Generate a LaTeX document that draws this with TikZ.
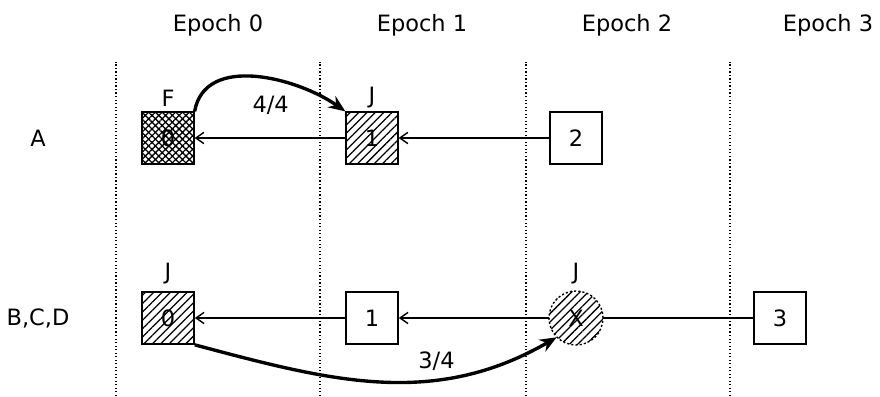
\documentclass[tikz,border=0pt]{standalone}
\usepackage{fontspec}
\setmainfont{DejaVu Sans}
\usetikzlibrary{arrows.meta,patterns.meta,positioning}
\tikzset{
  block/.style={draw, line width=1.2pt, minimum size=1.3cm, inner sep=0pt},
  ghost/.style={circle, minimum size=1.35cm, inner sep=0pt,
    postaction={draw, line width=1pt, dash pattern=on 1.5pt off 1.5pt}},
  hatched/.style={pattern={Lines[angle=45,distance=4.2pt,line width=0.9pt]}},
  crossed/.style={pattern={Hatch[angle=45,distance=3.4pt,line width=0.9pt]}},
  epochline/.style={line width=1.3pt, dash pattern=on 0.9pt off 1.6pt},
  link/.style={-{Straight Barb[length=2mm,width=2.8mm]}, line width=1pt},
  vote/.style={-{Stealth[length=4.2mm,width=3.4mm]}, line width=2.4pt},
}
\begin{document}
\begin{tikzpicture}[font=\fontsize{16}{19}\selectfont]
\useasboundingbox (0,0) rectangle (22,9.9);
    % Draw the epoch boundaries and headings
    \foreach \x in {2.9,8.0,13.15,18.25} {
        \draw[epochline] (\x,0) -- (\x,8.35);
    }
    \foreach \x [count=\i from 0] in {5.45,10.55,15.675,20.7} {
        \node at (\x,9.275) (e\i) {Epoch \i};
    }

% validator rows
\node at (0.95,6.45) (rowA) {A};
\node at (0.95,1.95) (rowB) {B,C,D};

% chain seen by A
\node at (4.2,6.45) [block, crossed] (a0) {0};
\node at (9.3,6.45) [block, hatched] (a1) {1};
\node at (14.4,6.45) [block] (a2) {2};

\node at (4.2,7.45) (fa0) {F};
\node at (9.3,7.45) (ja1) {J};

\draw[link] (a1) -- (a0);
\draw[link] (a2) -- (a1);

% chain seen by B,C,D
\node at (4.2,1.95) [block, hatched] (b0) {0};
\node at (9.3,1.95) [block] (b1) {1};
\node at (14.4,1.95) [ghost, hatched] (bx) {X};
\node at (19.5,1.95) [block] (b3) {3};

\node at (4.2,3.05) (jb0) {J};
\node at (14.4,3.05) (jbx) {J};

\draw[link] (b1) -- (b0);
\draw[link] (bx) -- (b1);
\draw[line width=1pt] (b3) -- (bx);

% justification links
\draw[vote] (a0.north east) to[out=80, in=145] node[pos=0.58, below=2.5mm] (v44) {4/4} (a1.north west);
\draw[vote] (b0.south east) to[out=-15, in=210] node[pos=0.66, above=0.5mm] (v34) {3/4} (bx.225);

\end{tikzpicture}
\end{document}
